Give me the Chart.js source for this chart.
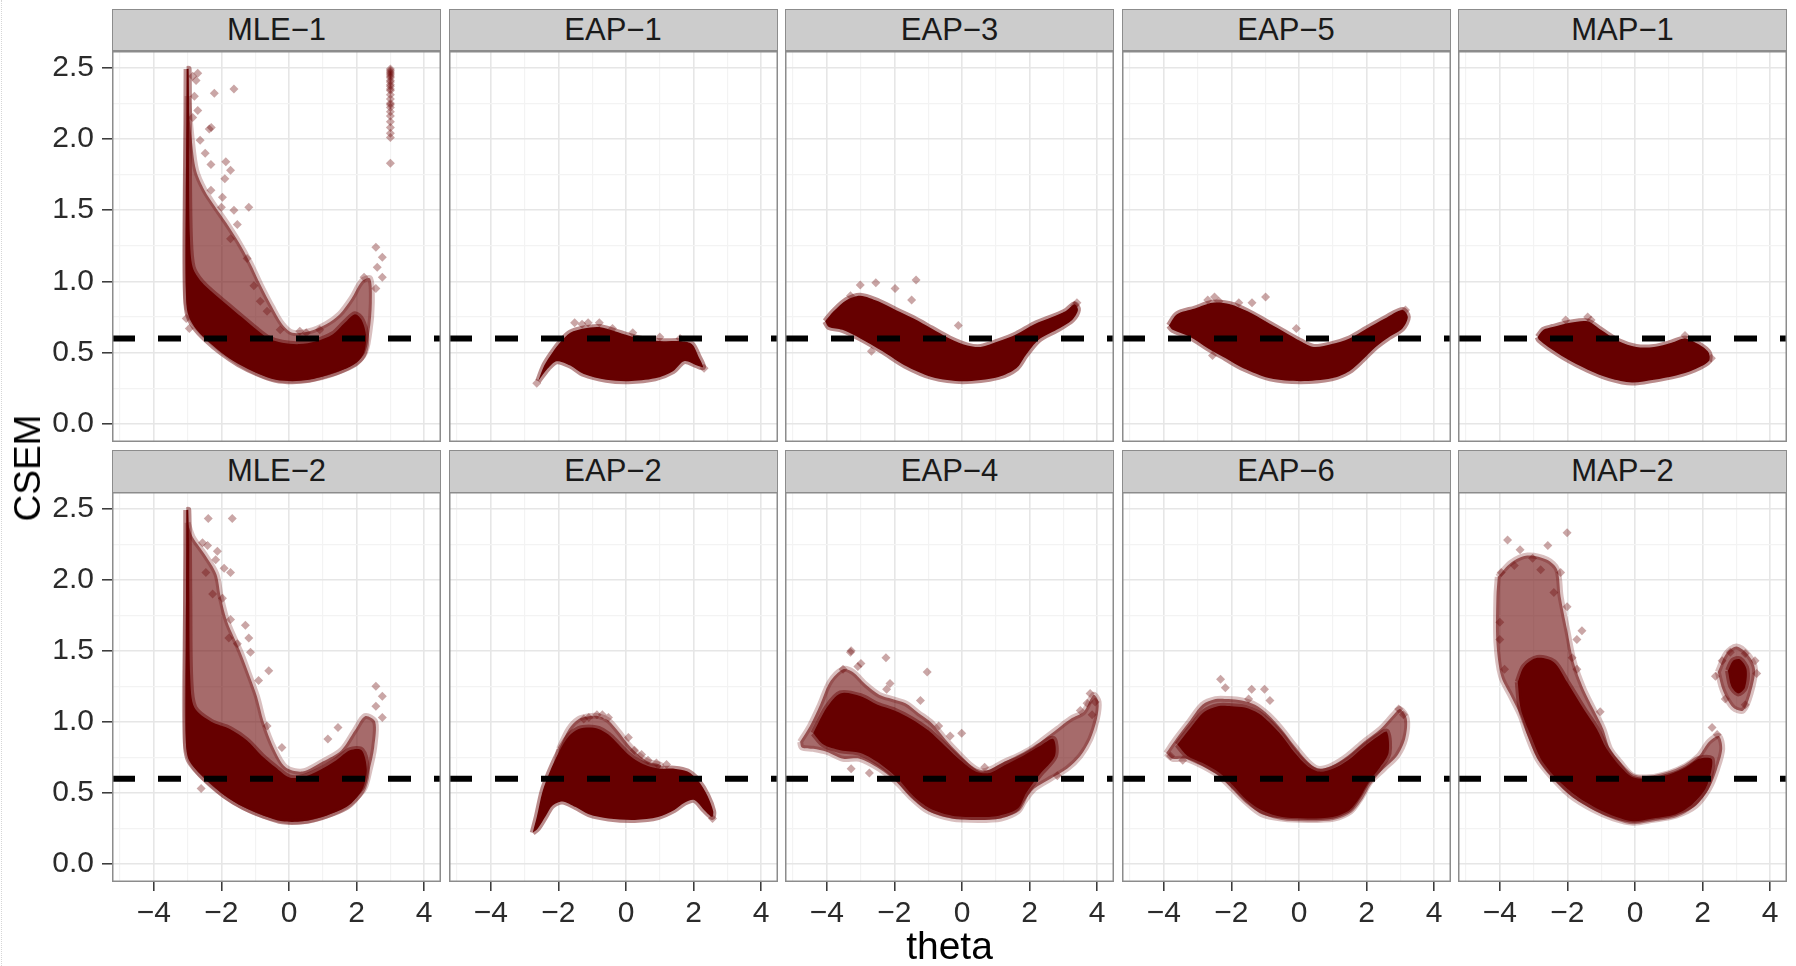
<!DOCTYPE html>
<html>
<head>
<meta charset="utf-8">
<title>CSEM by theta</title>
<script src="https://cdn.jsdelivr.net/npm/chart.js@4.4.1/dist/chart.umd.min.js"></script>
<style>
  html, body { margin: 0; padding: 0; background: #ffffff; }
  #figure { position: relative; width: 1796px; height: 966px; overflow: hidden; background: #ffffff;
            font-family: "Liberation Sans", Arial, Helvetica, sans-serif; }
  #figure canvas { position: absolute; }
  .strip { position: absolute; box-sizing: border-box; background: #cccccc; border: 1.5px solid #8c8c8c;
           color: #1a1a1a; font-size: 31px; text-align: center; }
  .axis-title { position: absolute; color: #000000; white-space: nowrap; }
  #edge { position: absolute; left: 1px; top: 0; width: 0; height: 966px; border-left: 1px dotted #d6d6d6; }
</style>
</head>
<body>
<div id="figure"><div id="edge"></div></div>
<script>
// ---- axis settings ----
const thetaRange = [-5.237, 4.497];
const csemRange = [-0.127, 2.617];
const xTicksMajor = [-4, -2, 0, 2, 4];
const xTicksMinor = [-5, -3, -1, 1, 3];
const yTicksMajor = [0, 0.5, 1, 1.5, 2, 2.5];
const yTicksMinor = [0.25, 0.75, 1.25, 1.75, 2.25];
const csemThreshold = 0.6;

// ---- panel labels, row by row ----
const panelLabels = ['MLE\u22121', 'EAP\u22121', 'EAP\u22123', 'EAP\u22125', 'MAP\u22121',
                     'MLE\u22122', 'EAP\u22122', 'EAP\u22124', 'EAP\u22126', 'MAP\u22122'];

// ---- per-estimator point clouds: [theta, CSEM] ----
// dense = outline of the saturated core, spread = outline of the thinner fringe,
// pts = isolated estimates outside the bulk
const mle1Dense = [[-3.03,2.49],[-2.97,2.49],[-2.96,1.8],[-2.93,1.3],[-2.85,1.1],[-2.6,1.0],[-2.2,0.91],[-1.8,0.83],[-1.4,0.75],[-1.0,0.67],[-0.6,0.6],[-0.2,0.57],[0.3,0.56],[0.8,0.58],[1.3,0.63],[1.65,0.71],[1.95,0.77],[2.15,0.73],[2.28,0.62],[2.22,0.5],[2.0,0.43],[1.6,0.38],[1.1,0.34],[0.6,0.31],[0.1,0.3],[-0.4,0.31],[-0.9,0.35],[-1.5,0.42],[-2.0,0.5],[-2.45,0.59],[-2.8,0.68],[-3.0,0.78],[-3.05,0.95],[-3.05,1.5]];
const mle1Spread = [[-3.0,2.3],[-2.88,2.0],[-2.75,1.78],[-2.5,1.64],[-2.2,1.53],[-1.85,1.41],[-1.5,1.28],[-1.15,1.13],[-0.85,0.98],[-0.5,0.82],[-0.2,0.7],[0.1,0.64],[0.6,0.65],[1.1,0.7],[1.5,0.77],[1.85,0.88],[2.15,1.0],[2.4,1.02],[2.45,0.85],[2.38,0.65],[2.2,0.48],[1.5,0.37],[0.5,0.31],[-0.5,0.32],[-1.5,0.43],[-2.4,0.6],[-2.9,0.74],[-3.05,0.9],[-3.06,1.6]];
const mle1Pts = [[-2.7,2.46],[-2.75,2.41],[-2.85,2.44],[-2.8,2.3],[-2.85,2.15],[-2.21,2.32],[-1.63,2.35],[-2.7,2.2],[-2.36,2.07],[-2.3,2.08],[-2.63,1.99],[-2.48,1.9],[-1.87,1.84],[-1.73,1.78],[-2.31,1.82],[-1.9,1.72],[-2.31,1.64],[-1.97,1.59],[-1.19,1.52],[-1.63,1.5],[-2.0,1.52],[-1.53,1.4],[-1.73,1.3],[-1.24,1.16],[-1.04,0.97],[-0.85,0.86],[-0.65,0.79],[-0.26,0.66],[0.32,0.65],[0.51,0.64],[0.91,0.66],[2.57,1.24],[2.76,1.17],[2.61,1.1],[2.76,1.03],[2.57,0.95],[2.22,1.03],[-3.04,0.74],[-2.95,0.67],
  [3.0,2.49],[3.0,2.48],[3.0,2.47],[3.0,2.46],[3.0,2.45],[3.0,2.44],[3.0,2.43],[3.0,2.41],[3.0,2.4],[3.0,2.38],[3.0,2.37],[3.0,2.35],[3.0,2.34],[3.0,2.31],[3.0,2.28],[3.0,2.25],[3.0,2.24],[3.0,2.22],[3.0,2.19],[3.0,2.16],[3.0,2.12],[3.0,2.08],[3.0,2.04],[3.0,2.01],[3.0,1.83]];

const mle2Dense = [[-3.04,2.49],[-2.98,2.49],[-2.95,1.9],[-2.92,1.3],[-2.8,1.1],[-2.3,1.0],[-1.75,0.95],[-1.25,0.87],[-0.8,0.76],[-0.4,0.68],[0.0,0.61],[0.4,0.61],[0.9,0.66],[1.4,0.73],[1.8,0.8],[2.15,0.8],[2.3,0.67],[2.2,0.54],[1.98,0.46],[1.7,0.4],[1.1,0.34],[0.4,0.3],[-0.2,0.3],[-0.75,0.34],[-1.35,0.4],[-1.9,0.48],[-2.4,0.58],[-2.78,0.67],[-2.98,0.74],[-3.05,0.85],[-3.05,1.5]];
const mle2Spread = [[-3.0,2.4],[-2.85,2.3],[-2.5,2.18],[-2.15,2.04],[-2.02,1.88],[-1.82,1.7],[-1.45,1.5],[-1.24,1.37],[-0.95,1.18],[-0.75,1.0],[-0.46,0.82],[-0.1,0.68],[0.4,0.65],[1.0,0.72],[1.55,0.8],[1.95,0.94],[2.25,1.04],[2.55,1.0],[2.52,0.82],[2.38,0.66],[2.2,0.52],[1.5,0.38],[0.4,0.3],[-0.75,0.34],[-1.9,0.48],[-2.8,0.68],[-3.05,0.85],[-3.06,1.6]];
const mle2Pts = [[-2.39,2.43],[-1.68,2.43],[-2.56,2.26],[-2.41,2.24],[-2.12,2.2],[-2.17,2.14],[-1.92,2.08],[-1.73,2.05],[-2.46,2.05],[-2.26,1.9],[-1.97,1.87],[-1.73,1.72],[-1.29,1.68],[-1.19,1.59],[-1.78,1.59],[-1.53,1.55],[-1.14,1.49],[-0.6,1.36],[-0.9,1.29],[-0.65,0.97],[-0.21,0.82],[1.15,0.88],[1.45,0.96],[2.57,1.25],[2.76,1.18],[2.57,1.11],[2.76,1.03],[-2.6,0.53]];

const eap1Dense = [[-2.6,0.3],[-2.42,0.41],[-2.18,0.5],[-1.92,0.58],[-1.65,0.64],[-1.25,0.67],[-0.79,0.68],[-0.33,0.65],[0.07,0.62],[0.59,0.59],[1.12,0.58],[1.65,0.58],[1.95,0.56],[2.15,0.47],[2.28,0.4],[2.1,0.41],[1.72,0.44],[1.39,0.37],[0.86,0.32],[0.07,0.3],[-0.59,0.31],[-1.25,0.35],[-1.65,0.41],[-2.05,0.44],[-2.31,0.39]];
const eap1Pts = [[-1.52,0.71],[-1.12,0.71],[-0.79,0.71],[-0.4,0.67],[0.2,0.64],[2.31,0.39],[-2.64,0.285],[-1.3,0.7],[1.0,0.61],[1.6,0.6]];

const eap3Dense = [[-4.05,0.72],[-3.8,0.79],[-3.41,0.87],[-3.01,0.9],[-2.48,0.86],[-1.96,0.8],[-1.43,0.74],[-0.9,0.67],[-0.37,0.6],[0.16,0.55],[0.55,0.54],[1.08,0.58],[1.61,0.63],[2.14,0.7],[2.67,0.75],[3.06,0.79],[3.33,0.84],[3.43,0.8],[3.26,0.73],[2.8,0.66],[2.27,0.59],[1.88,0.48],[1.61,0.39],[1.08,0.33],[0.03,0.3],[-0.9,0.33],[-1.69,0.41],[-2.35,0.51],[-3.01,0.6],[-3.54,0.66],[-3.94,0.68]];
const eap3Pts = [[-3.01,0.975],[-2.55,0.99],[-1.98,0.95],[-1.36,1.01],[-1.49,0.87],[-0.11,0.69],[-2.68,0.51],[3.33,0.83],[3.4,0.85],[-3.3,0.9]];

const eap5Dense = [[-3.85,0.69],[-3.61,0.77],[-3.08,0.81],[-2.56,0.85],[-2.04,0.84],[-1.52,0.79],[-0.99,0.72],[-0.47,0.65],[0.05,0.58],[0.44,0.54],[0.97,0.56],[1.49,0.6],[2.01,0.67],[2.54,0.74],[3.06,0.8],[3.22,0.75],[3.06,0.67],[2.67,0.61],[2.27,0.54],[1.88,0.45],[1.49,0.37],[0.97,0.32],[0.05,0.3],[-0.86,0.32],[-1.65,0.39],[-2.17,0.46],[-2.69,0.53],[-3.22,0.61],[-3.74,0.66]];
const eap5Pts = [[-2.5,0.89],[-2.37,0.86],[-1.78,0.85],[-1.39,0.85],[-0.99,0.89],[-0.08,0.67],[-2.56,0.48],[-2.7,0.87],[3.15,0.8]];

const map1Dense = [[-2.88,0.61],[-2.71,0.66],[-2.44,0.68],[-1.92,0.71],[-1.4,0.72],[-1.01,0.66],[-0.48,0.58],[0.04,0.54],[0.56,0.54],[1.08,0.57],[1.48,0.6],[1.87,0.56],[2.18,0.5],[2.18,0.44],[1.74,0.38],[1.22,0.34],[0.56,0.31],[-0.09,0.29],[-0.75,0.32],[-1.4,0.38],[-2.05,0.46],[-2.57,0.54],[-2.84,0.59]];
const map1Pts = [[-1.4,0.75],[-2.05,0.73],[1.48,0.62],[2.26,0.46],[-1.3,0.73]];

const eap2Dense = [[-2.76,0.22],[-2.64,0.33],[-2.47,0.51],[-2.27,0.64],[-1.98,0.79],[-1.69,0.9],[-1.4,0.95],[-1.1,0.96],[-0.81,0.95],[-0.52,0.91],[-0.22,0.84],[0.07,0.77],[0.36,0.72],[0.65,0.69],[1.04,0.67],[1.43,0.67],[1.82,0.65],[2.12,0.59],[2.41,0.48],[2.58,0.37],[2.55,0.33],[2.31,0.38],[2.02,0.45],[1.73,0.43],[1.43,0.38],[0.95,0.33],[0.26,0.31],[-0.52,0.32],[-1.1,0.35],[-1.49,0.4],[-1.88,0.44],[-2.18,0.41],[-2.37,0.34],[-2.61,0.25]];
const eap2Spread = [[-1.98,0.81],[-1.69,0.95],[-1.4,1.02],[-1.1,1.04],[-0.81,1.04],[-0.52,1.01],[-0.22,0.93],[0.07,0.84],[0.36,0.77],[0.65,0.72],[1.04,0.69],[0.5,0.6],[-1.0,0.6],[-2.0,0.7]];
const eap2Pts = [[-1.1,1.03],[-0.86,1.05],[-0.52,1.03],[0.07,0.89],[0.46,0.77],[0.65,0.73],[2.56,0.32],[-1.25,1.02],[-0.7,1.05],[0.25,0.8],[0.9,0.71],[1.2,0.7]];

const eap4Dense = [[-4.4,0.92],[-4.0,1.1],[-3.6,1.2],[-3.0,1.18],[-2.5,1.12],[-2.0,1.08],[-1.5,1.02],[-1.0,0.94],[-0.5,0.83],[0.0,0.72],[0.4,0.65],[0.8,0.64],[1.3,0.7],[1.8,0.76],[2.3,0.83],[2.7,0.88],[2.75,0.76],[2.3,0.63],[1.9,0.5],[1.65,0.39],[1.1,0.34],[0.5,0.33],[-0.3,0.34],[-0.95,0.39],[-1.45,0.48],[-1.9,0.6],[-2.4,0.7],[-3.0,0.78],[-3.6,0.8],[-4.1,0.84]];
const eap4Spread = [[-4.79,0.86],[-4.5,0.97],[-4.2,1.12],[-3.91,1.28],[-3.52,1.37],[-3.23,1.35],[-2.84,1.26],[-2.45,1.19],[-2.06,1.16],[-1.67,1.13],[-1.28,1.06],[-0.89,0.99],[-0.5,0.88],[-0.11,0.78],[0.28,0.69],[0.58,0.65],[0.87,0.67],[1.26,0.72],[1.65,0.76],[2.04,0.81],[2.43,0.88],[2.82,0.95],[3.21,1.02],[3.6,1.07],[3.89,1.19],[4.04,1.14],[3.99,1.02],[3.8,0.88],[3.5,0.76],[3.11,0.67],[2.62,0.6],[2.14,0.53],[1.84,0.44],[1.65,0.37],[1.16,0.32],[0.48,0.31],[-0.3,0.32],[-0.99,0.37],[-1.47,0.46],[-1.96,0.58],[-2.45,0.67],[-3.03,0.74],[-3.52,0.74],[-4.01,0.79],[-4.4,0.81],[-4.74,0.82]];
const eap4Pts = [[-3.28,1.5],[-3.3,1.49],[-2.25,1.45],[-2.99,1.41],[-3.52,1.37],[-3.08,1.39],[-1.03,1.35],[-2.13,1.27],[-2.23,1.23],[-1.23,1.15],[-0.69,0.97],[-0.35,0.9],[-0.01,0.92],[0.67,0.68],[3.79,1.2],[3.94,1.14],[3.5,1.08],[-3.28,0.67],[-2.74,0.64],[2.82,0.62],[3.7,1.13],[3.85,1.05]];

const eap6Dense = [[-3.6,0.84],[-3.2,0.96],[-2.8,1.07],[-2.4,1.11],[-2.0,1.11],[-1.6,1.1],[-1.2,1.06],[-0.85,0.99],[-0.5,0.9],[-0.15,0.79],[0.25,0.69],[0.6,0.65],[1.0,0.67],[1.45,0.73],[1.9,0.82],[2.35,0.9],[2.6,0.93],[2.65,0.78],[2.4,0.68],[2.05,0.57],[1.78,0.46],[1.5,0.38],[1.0,0.33],[0.25,0.32],[-0.5,0.33],[-1.05,0.37],[-1.55,0.45],[-1.95,0.55],[-2.35,0.64],[-2.85,0.71],[-3.3,0.76]];
const eap6Spread = [[-3.93,0.78],[-3.64,0.88],[-3.25,1.0],[-2.86,1.12],[-2.47,1.16],[-2.08,1.16],[-1.69,1.15],[-1.3,1.12],[-0.91,1.05],[-0.52,0.95],[-0.13,0.83],[0.26,0.72],[0.56,0.67],[0.95,0.69],[1.43,0.76],[1.92,0.86],[2.41,0.95],[2.8,1.05],[2.99,1.09],[3.19,1.02],[3.14,0.88],[2.9,0.76],[2.51,0.67],[2.12,0.58],[1.82,0.46],[1.53,0.37],[1.04,0.32],[0.26,0.31],[-0.52,0.32],[-1.1,0.35],[-1.59,0.44],[-1.98,0.53],[-2.37,0.62],[-2.86,0.69],[-3.35,0.74],[-3.74,0.74]];
const eap6Pts = [[-2.32,1.3],[-2.18,1.24],[-1.4,1.23],[-1.02,1.23],[-0.86,1.15],[-1.49,1.16],[2.95,1.09],[3.09,1.05],[-3.44,0.73],[-3.8,0.76]];

const map2Dense = [[-3.47,1.28],[-3.38,1.09],[-3.08,0.9],[-2.79,0.74],[-2.4,0.62],[-1.81,0.49],[-1.13,0.39],[-0.55,0.33],[-0.06,0.3],[0.53,0.32],[1.21,0.35],[1.7,0.42],[2.09,0.53],[2.26,0.66],[2.26,0.74],[1.89,0.74],[1.5,0.68],[1.01,0.63],[0.43,0.6],[-0.06,0.61],[-0.45,0.69],[-0.84,0.81],[-1.13,0.95],[-1.52,1.09],[-2.01,1.28],[-2.4,1.42],[-2.89,1.45],[-3.28,1.39]];
const map2Spread = [[-4.06,2.02],[-4.1,1.88],[-4.1,1.56],[-3.96,1.32],[-3.67,1.18],[-3.38,1.04],[-3.18,0.9],[-2.89,0.74],[-2.5,0.62],[-1.91,0.48],[-1.23,0.38],[-0.64,0.32],[-0.06,0.29],[0.53,0.31],[1.21,0.34],[1.8,0.41],[2.19,0.53],[2.43,0.67],[2.58,0.81],[2.48,0.9],[2.19,0.86],[1.89,0.76],[1.5,0.69],[1.01,0.64],[0.43,0.61],[-0.06,0.62],[-0.45,0.72],[-0.74,0.81],[-0.94,0.95],[-1.23,1.09],[-1.52,1.23],[-1.81,1.42],[-2.01,1.65],[-2.2,1.88],[-2.3,2.07],[-2.6,2.14],[-3.18,2.17],[-3.67,2.12]];
const map2ClusterDense = [[2.75,1.36],[2.9,1.43],[3.1,1.44],[3.3,1.37],[3.25,1.24],[3.05,1.2],[2.85,1.25]];
const map2ClusterSpread = [[2.45,1.35],[2.7,1.48],[3.0,1.53],[3.35,1.47],[3.55,1.37],[3.42,1.2],[3.2,1.08],[2.9,1.1],[2.6,1.22]];
const map2Pts = [[-3.77,2.28],[-3.4,2.21],[-2.58,2.24],[-2.01,2.33],[-3.03,2.15],[-3.57,2.1],[-2.79,2.07],[-2.2,2.05],[-3.96,2.05],[-2.4,1.91],[-2.01,1.81],[-1.57,1.64],[-1.72,1.58],[-1.86,1.45],[-1.72,1.37],[-1.03,1.07],[2.28,0.96],[2.43,0.91],[-4.0,1.58],[-3.86,1.37],[-4.0,1.7],[2.82,1.49],[3.26,1.48],[3.55,1.43],[3.6,1.34],[2.58,1.43],[3.26,1.12],[2.67,1.16],[2.38,1.32]];

// ---- facet table (row-major, 5 columns) ----
const facets = [
  { dense: [mle1Dense], spread: [mle1Spread], pts: mle1Pts },
  { dense: [eap1Dense], spread: [], pts: eap1Pts },
  { dense: [eap3Dense], spread: [], pts: eap3Pts },
  { dense: [eap5Dense], spread: [], pts: eap5Pts },
  { dense: [map1Dense], spread: [], pts: map1Pts },
  { dense: [mle2Dense], spread: [mle2Spread], pts: mle2Pts },
  { dense: [eap2Dense], spread: [eap2Spread], pts: eap2Pts },
  { dense: [eap4Dense], spread: [eap4Spread], pts: eap4Pts },
  { dense: [eap6Dense], spread: [eap6Spread], pts: eap6Pts },
  { dense: [map2Dense, map2ClusterDense], spread: [map2Spread, map2ClusterSpread], pts: map2Pts }
];

// ---- page geometry ----
const panelLeft = [112, 448.5, 785, 1121.5, 1458];
const panelWidth = 329;
const stripTop = [8.5, 450];
const stripHeight = 42.5;
const plotTop = [51, 492];
const plotBottom = [442, 882];
const figHeight = 966;

const ink = '#660000';
const fontFamily = '"Liberation Sans", Arial, Helvetica, sans-serif';
const fig = document.getElementById('figure');

const toXY = arr => arr.map(([x, y]) => ({ x, y }));
const ring = arr => toXY(arr.concat([arr[0]]));

const panelFrame = {
  id: 'panelFrame',
  afterDraw(chart) {
    const a = chart.chartArea, c = chart.ctx;
    c.save();
    c.strokeStyle = '#8c8c8c';
    c.lineWidth = 1.5;
    c.strokeRect(a.left + 0.75, a.top + 0.75, a.width - 1.5, a.height - 1.5);
    c.restore();
  }
};

function makeTicks(scale, majors, minors) {
  scale.ticks = majors.concat(minors).sort((p, q) => p - q).map(v => ({ value: v }));
}
const fmtTheta = v => (v < 0 ? '\u2212' + Math.abs(v) : String(v));

function buildPanel(i) {
  const row = Math.floor(i / 5), col = i % 5;
  const f = facets[i];
  const left = col === 0 ? 0 : panelLeft[col];
  const width = panelLeft[col] + panelWidth - left;
  const top = plotTop[row];
  const height = row === 1 ? figHeight - top : plotBottom[row] - top;
  const yAxisWidth = col === 0 ? panelLeft[0] : 0;
  const xAxisHeight = height - (plotBottom[row] - top);

  // strip label
  const strip = document.createElement('div');
  strip.className = 'strip';
  strip.style.left = panelLeft[col] + 'px';
  strip.style.top = stripTop[row] + 'px';
  strip.style.width = panelWidth + 'px';
  strip.style.height = stripHeight + 'px';
  strip.style.lineHeight = (stripHeight - 3) + 'px';
  strip.textContent = panelLabels[i];
  fig.appendChild(strip);

  const cv = document.createElement('canvas');
  cv.width = width; cv.height = height;
  cv.style.left = left + 'px'; cv.style.top = top + 'px';
  cv.style.width = width + 'px'; cv.style.height = height + 'px';
  fig.appendChild(cv);

  const datasets = [];
  datasets.push({
    data: toXY([[thetaRange[0], csemThreshold], [thetaRange[1], csemThreshold]]),
    borderColor: '#000000', borderWidth: 6, borderDash: [23, 23], borderCapStyle: 'butt',
    pointRadius: 0, fill: false, order: 0
  });
  datasets.push({
    data: toXY(f.pts), showLine: false,
    pointStyle: 'rectRot', pointRadius: 4.5, pointBorderWidth: 0,
    pointBackgroundColor: 'rgba(102,0,0,0.35)', order: 1
  });
  f.dense.forEach(d => datasets.push({
    data: ring(d), fill: 'shape', backgroundColor: ink,
    borderColor: 'rgba(102,0,0,0.45)', borderWidth: 6, borderJoinStyle: 'round',
    tension: 0.3, pointRadius: 0, order: 2
  }));
  f.spread.forEach(d => datasets.push({
    data: ring(d), fill: 'shape', backgroundColor: 'rgba(102,0,0,0.58)',
    borderColor: 'rgba(102,0,0,0.25)', borderWidth: 6, borderJoinStyle: 'round',
    tension: 0.3, pointRadius: 0, order: 3
  }));

  new Chart(cv, {
    type: 'line',
    data: { datasets },
    options: {
      responsive: false, animation: false, events: [],
      devicePixelRatio: 1,
      layout: { padding: 0, autoPadding: false },
      plugins: { legend: { display: false }, tooltip: { enabled: false } },
      scales: {
        x: {
          type: 'linear', min: thetaRange[0], max: thetaRange[1],
          afterBuildTicks: s => makeTicks(s, xTicksMajor, xTicksMinor),
          afterFit: s => { s.height = xAxisHeight; s.paddingLeft = 0; s.paddingRight = 0; },
          border: { display: false },
          grid: {
            color: ctx => (ctx.tick && xTicksMajor.includes(ctx.tick.value) ? '#e6e6e6' : '#f3f3f3'),
            lineWidth: ctx => (ctx.tick && xTicksMajor.includes(ctx.tick.value) ? 1.6 : 1.2),
            drawTicks: row === 1, tickLength: 9,
            tickColor: ctx => (ctx.tick && xTicksMajor.includes(ctx.tick.value) ? '#333333' : 'rgba(0,0,0,0)'),
            tickWidth: 1.5
          },
          ticks: {
            display: row === 1, autoSkip: false, maxRotation: 0, padding: 5,
            color: '#2b2b2b', font: { family: fontFamily, size: 30 },
            callback: v => (xTicksMajor.includes(v) ? fmtTheta(v) : '')
          }
        },
        y: {
          type: 'linear', min: csemRange[0], max: csemRange[1],
          afterBuildTicks: s => makeTicks(s, yTicksMajor, yTicksMinor),
          afterFit: s => { s.width = yAxisWidth; s.paddingTop = 0; s.paddingBottom = 0; },
          border: { display: false },
          grid: {
            color: ctx => (ctx.tick && yTicksMajor.includes(ctx.tick.value) ? '#e6e6e6' : '#f3f3f3'),
            lineWidth: ctx => (ctx.tick && yTicksMajor.includes(ctx.tick.value) ? 1.6 : 1.2),
            drawTicks: col === 0, tickLength: 10,
            tickColor: ctx => (ctx.tick && yTicksMajor.includes(ctx.tick.value) ? '#333333' : 'rgba(0,0,0,0)'),
            tickWidth: 1.5
          },
          ticks: {
            display: col === 0, autoSkip: false, padding: 8,
            color: '#2b2b2b', font: { family: fontFamily, size: 30 },
            callback: v => (yTicksMajor.includes(v) ? v.toFixed(1) : '')
          }
        }
      }
    },
    plugins: [panelFrame]
  });
}

for (let i = 0; i < facets.length; i++) buildPanel(i);

// axis titles
const xTitle = document.createElement('div');
xTitle.className = 'axis-title';
xTitle.textContent = 'theta';
xTitle.style.fontSize = '39px';
xTitle.style.left = '0px';
xTitle.style.width = (2 * 949.5) + 'px';
xTitle.style.textAlign = 'center';
xTitle.style.top = '924px';
xTitle.style.lineHeight = '44px';
fig.appendChild(xTitle);

const yTitle = document.createElement('div');
yTitle.className = 'axis-title';
yTitle.textContent = 'CSEM';
yTitle.style.fontSize = '37px';
yTitle.style.left = '28px';
yTitle.style.top = '468px';
yTitle.style.lineHeight = '38px';
yTitle.style.transform = 'translate(-50%, -50%) rotate(-90deg)';
fig.appendChild(yTitle);
</script>
</body>
</html>
